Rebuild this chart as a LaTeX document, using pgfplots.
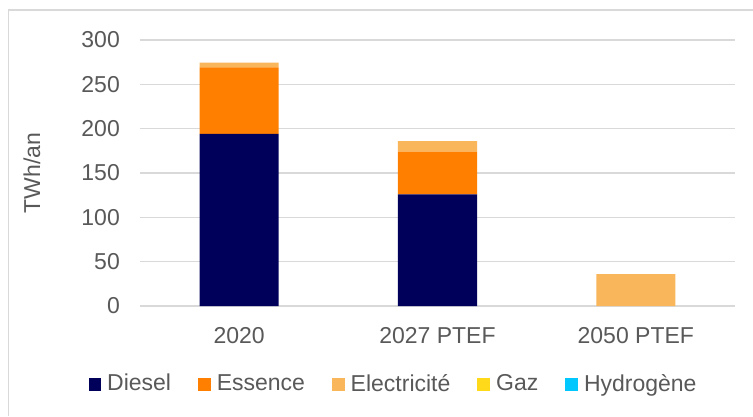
\documentclass[border=0pt]{standalone}
\usepackage{pgfplots}
\pgfplotsset{compat=1.18}
\usepackage{fontspec}
\setmainfont{Liberation Sans}
\definecolor{diesel}{HTML}{00005A}
\definecolor{essence}{HTML}{FF8000}
\definecolor{elec}{HTML}{F9B65A}
\definecolor{gaz}{HTML}{FFD91A}
\definecolor{hydro}{HTML}{00C8FF}
\definecolor{txt}{HTML}{595959}
\definecolor{gridc}{HTML}{D9D9D9}
\begin{document}
\fontsize{23}{27}\selectfont
\begin{tikzpicture}[x=1pt,y=1pt]
\useasboundingbox (0,0) rectangle (753,416);
\fill[white] (0,0) rectangle (753,416);
\draw[gridc, line width=1.5pt] (8.5,0) -- (8.5,406) -- (753,406);
\begin{axis}[
  at={(140pt,110pt)}, anchor=south west,
  scale only axis, width=595pt, height=266pt,
  ybar stacked, bar width=79pt,
  xmin=-0.5, xmax=2.5, ymin=0, ymax=300,
  ytick={0,50,...,300},
  xtick={0,1,2}, xticklabels={2020,2027 PTEF,2050 PTEF},
  axis line style={draw=none},
  xmajorgrids=false, ymajorgrids=true, grid style={color=gridc, line width=1.2pt},
  major tick length=0pt,
  /pgf/number format/assume math mode=true,
  tick label style={font=\fontsize{23}{27}\selectfont, text=txt, inner sep=0pt},
  yticklabel style={anchor=east, xshift=-20pt},
  xticklabel style={anchor=north, yshift=-21pt},
  ylabel={TWh/an},
  ylabel style={at={(axis description cs:-0.1815,0.5)}, anchor=center, font=\fontsize{23}{27}\selectfont, text=txt},
  legend columns=5,
  legend style={at={(0.4244,-0.2945)}, anchor=center, draw=none, fill=none,
    font=\fontsize{23}{27}\selectfont, text=txt,
    /tikz/every even column/.append style={column sep=27pt},
    /tikz/every odd column/.append style={column sep=6pt},
    nodes={inner sep=0pt}},
  legend image code/.code={\fill[#1] (0pt,-6.3pt) rectangle (12.7pt,6.3pt);},
]
\addplot[fill=diesel, draw=none] coordinates {(0,194) (1,126) (2,0)};
\addplot[fill=essence, draw=none] coordinates {(0,75) (1,48) (2,0)};
\addplot[fill=elec, draw=none] coordinates {(0,5.5) (1,12) (2,36)};
\addplot[fill=gaz, draw=none] coordinates {(0,0) (1,0) (2,0)};
\addplot[fill=hydro, draw=none] coordinates {(0,0) (1,0) (2,0)};
\legend{Diesel, Essence, Electricité, Gaz, Hydrogène}
\end{axis}
\end{tikzpicture}
\end{document}
